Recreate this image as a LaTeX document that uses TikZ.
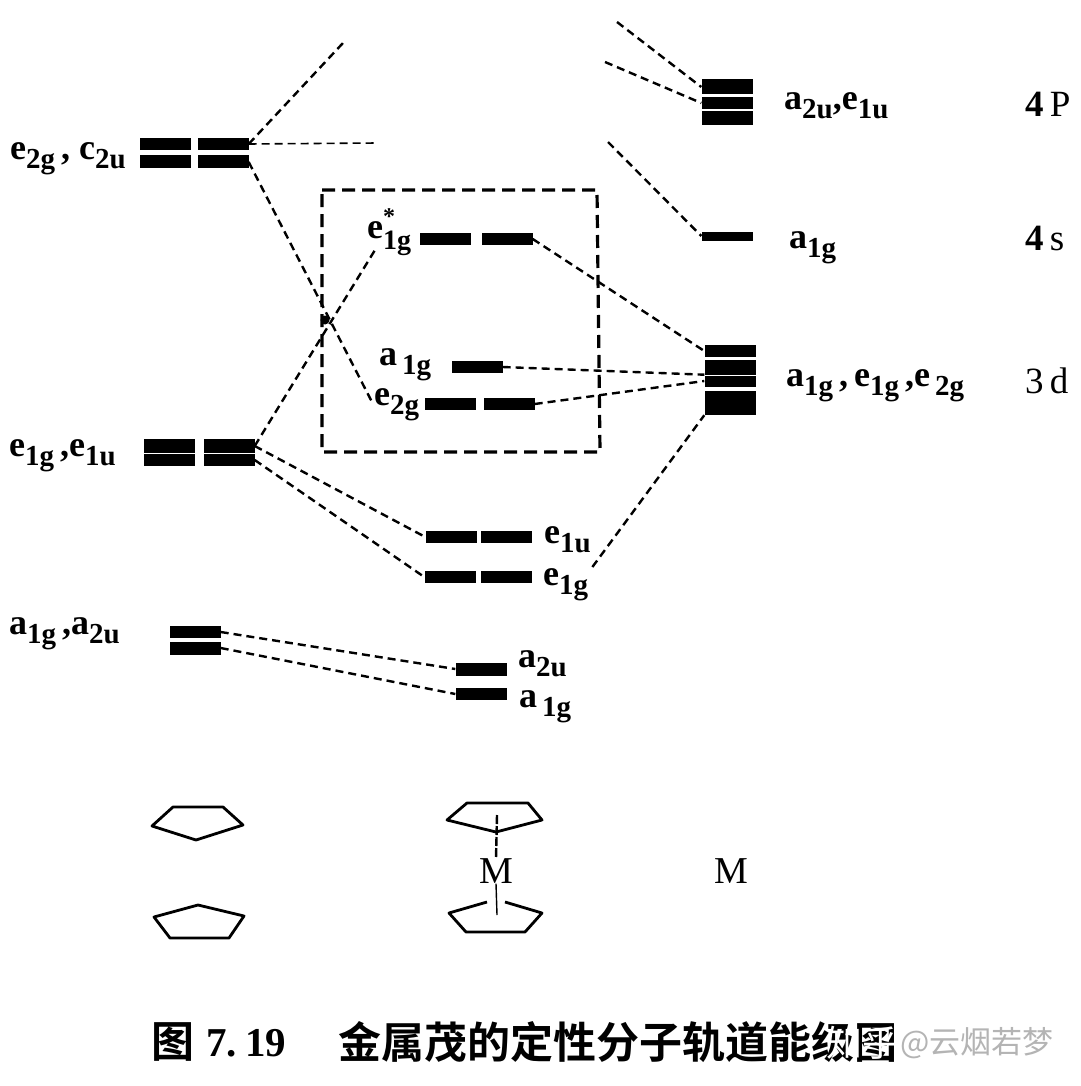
\documentclass[tikz,border=0pt]{standalone}
\usepackage{fontspec}
\usepackage{tikz}
\usetikzlibrary{calc}
\setmainfont{Liberation Serif}
\newfontfamily\cjkbold[BoldFont={Noto Sans CJK SC Bold}]{Noto Sans CJK SC}
\newfontfamily\cjklight{Noto Sans CJK SC}
\definecolor{Stamp}{HTML}{B4B4B4}
\newcommand{\orb}[2]{#1\raisebox{-9pt}{\fontsize{29}{29}\selectfont #2}}
\newcommand{\orbstar}[2]{#1\rlap{\raisebox{14pt}{\fontsize{24}{24}\selectfont *}}\raisebox{-11pt}{\fontsize{28}{28}\selectfont #2}}

\begin{document}
\begin{tikzpicture}[
  x=1pt,y=-1pt,
  level/.style={fill=black,inner sep=0pt,minimum width=51pt,minimum height=12pt},
  link/.style={dash pattern=on 8pt off 5pt,line width=2.4pt},
  frame/.style={dash pattern=on 13pt off 7pt,line width=3.2pt},
  orblabel/.style={anchor=base west,inner sep=0pt,font=\fontsize{36}{38}\selectfont\bfseries},
  shell/.style={anchor=base west,inner sep=0pt,font=\fontsize{37}{38}\selectfont},
  metal/.style={inner sep=0pt,font=\fontsize{38}{40}\selectfont},
  ring/.style={line width=2.8pt,line join=round},
  caption/.style={anchor=west,inner sep=0pt,font=\fontsize{43}{46}\selectfont\cjkbold\bfseries}
]
\useasboundingbox (0,0) rectangle (1080,1086);
\fill[white] (0,0) rectangle (1080,1086);
% ligand levels, left
\node[level] (ulefta) at (165,144) {};
\node[level] (uleftb) at (223,144) {};
\node[level,minimum height=13pt] (ulowa) at (165,162) {};
\node[level,minimum height=13pt] (ulowb) at (223,162) {};
\node[level,minimum height=14pt] (mlefta) at (169,446) {};
\node[level,minimum height=14pt] (mleftb) at (229,446) {};
\node[level] (mlowa) at (169,460) {};
\node[level] (mlowb) at (229,460) {};
\node[level] (alefta) at (195,632) {};
\node[level,minimum height=13pt] (aleftb) at (195,648) {};
% complex levels, middle
\node[level] (stara) at (445,239) {};
\node[level] (starb) at (507,239) {};
\node[level] (midag) at (477,367) {};
\node[level] (twoga) at (450,404) {};
\node[level] (twogb) at (509,404) {};
\node[level] (oneua) at (451,537) {};
\node[level] (oneub) at (506,537) {};
\node[level] (onega) at (450,577) {};
\node[level] (onegb) at (506,577) {};
\node[level,minimum height=13pt] (atwou) at (481,669) {};
\node[level] (aoneg) at (481,694) {};
% metal levels, right
\node[level,minimum height=15pt] (fpa) at (727,87) {};
\node[level,minimum height=12pt] (fpb) at (727,103) {};
\node[level,minimum height=14pt] (fpc) at (727,118) {};
\node[level,minimum height=9pt] (fsa) at (727,236) {};
\node[level,minimum height=12pt] (tda) at (730,351) {};
\node[level,minimum height=15pt] (tdb) at (730,367) {};
\node[level,minimum height=11pt] (tdc) at (730,381) {};
\node[level,minimum height=24pt] (tdd) at (730,403) {};
% labels
\node[orblabel] (lbla) at (10,160) {\orb{e}{2g}\,, \orb{c}{2u}};
\node[orblabel] (lblb) at (9,456) {\orb{e}{1g}\,,\orb{e}{1u}};
\node[orblabel] (lblc) at (9,634) {\orb{a}{1g}\,,\orb{a}{2u}};
\node[orblabel] (lblstar) at (367,238) {\orbstar{e}{1g}};
\node[orblabel] (lblmid) at (379,365) {\orb{a}{\,1g}};
\node[orblabel] (lbltwog) at (374,405) {\orb{e}{2g}};
\node[orblabel] (lbloneu) at (544,543) {\orb{e}{1u}};
\node[orblabel] (lblone) at (543,585) {\orb{e}{1g}};
\node[orblabel] (lblatwo) at (518,667) {\orb{a}{2u}};
\node[orblabel] (lblaone) at (519,707) {\orb{a}{\,1g}};
\node[orblabel] (lblp) at (784,110) {\orb{a}{2u},\orb{e}{1u}};
\node[orblabel] (lbls) at (789,248) {\orb{a}{1g}};
\node[orblabel] (lbld) at (786,386) {\orb{a}{1g}\,,\,\orb{e}{1g}\,,\orb{e}{\,2g}};
\node[shell] (shp) at (1025,117) {\textbf{4}\,P};
\node[shell] (shs) at (1025,250) {\textbf{4}\,s};
\node[shell] (shd) at (1025,393) {3\,d};
% free ends of the broken lines
\coordinate (upa) at (343,43);
\coordinate (upb) at (378,143);
\coordinate (fpfar) at (617,22);
\coordinate (fpnear) at (605,62);
\coordinate (fsfar) at (608,142);
% the box
\draw[frame] (322,190) -- (597,190) -- (600,452) -- (322,452) -- cycle;
% connectors
\draw[link] (uleftb.east) -- (upa);
\draw[link,line width=1.6pt] (uleftb.east) -- (upb);
\draw[link] (ulowb.east) -- ($(lbltwog.base west)+(-2,-3)$);
\draw[link] (mleftb.east) -- ($(lblstar.base west)+(8,12)$);
\draw[link] (mleftb.east) -- (oneua.west);
\draw[link] (mlowb.east) -- (onega.west);
\draw[link] (alefta.east) -- (atwou.west);
\draw[link] (aleftb.east) -- (aoneg.west);
\draw[link] (starb.east) -- (tda.west);
\draw[link] (midag.east) -- (tdb.south west);
\draw[link] (twogb.east) -- (tdc.west);
\draw[link] ($(lblone.base east)+(4,-18)$) -- (tdd.south west);
\draw[link] (fpfar) -- (fpa.west);
\draw[link] (fpnear) -- (fpb.west);
\draw[link] (fsfar) -- (fsa.west);
\fill (325,320) circle (4.5pt);
% rings
\draw[ring] (152,826) -- (173,807) -- (223,807) -- (243,825) -- (196,840) -- cycle;
\draw[ring] (154,917) -- (198,905) -- (244,916) -- (229,938) -- (170,938) -- cycle;
\draw[ring] (447,820) -- (467,803) -- (528,803) -- (542,820) -- (496,832) -- cycle;
\draw[ring] (487,902) -- (449,913) -- (466,932) -- (525,932) -- (542,913) -- (505,902);
\node[metal] (mcomplex) at (496,871) {M};
\node[metal] (mfree) at (731,871) {M};
\coordinate (axtop) at (497,815);
\coordinate (axlow) at (497,915);
\draw[line width=2.4pt,dash pattern=on 9pt off 2pt] (axtop) -- (mcomplex.north);
\draw[line width=1.4pt] (mcomplex.south) -- (axlow);
% caption
\node[caption] (capa) at (151,1042) {图};
\node[anchor=west,inner sep=0pt,font=\fontsize{41}{44}\selectfont\bfseries] (capb) at (206,1043) {7.\hspace{0.2em}19};
\node[caption] (capc) at (338,1042) {金属茂的定性分子轨道能级图};
\node[anchor=west,inner sep=0pt,text=white,font=\fontsize{36}{38}\selectfont\cjklight] (stampa) at (826,1043) {知乎};
\node[anchor=west,inner sep=0pt,text=Stamp,font=\fontsize{31}{34}\selectfont\cjklight] (stampb) at (900,1043) {@云烟若梦};
\end{tikzpicture}
\end{document}
